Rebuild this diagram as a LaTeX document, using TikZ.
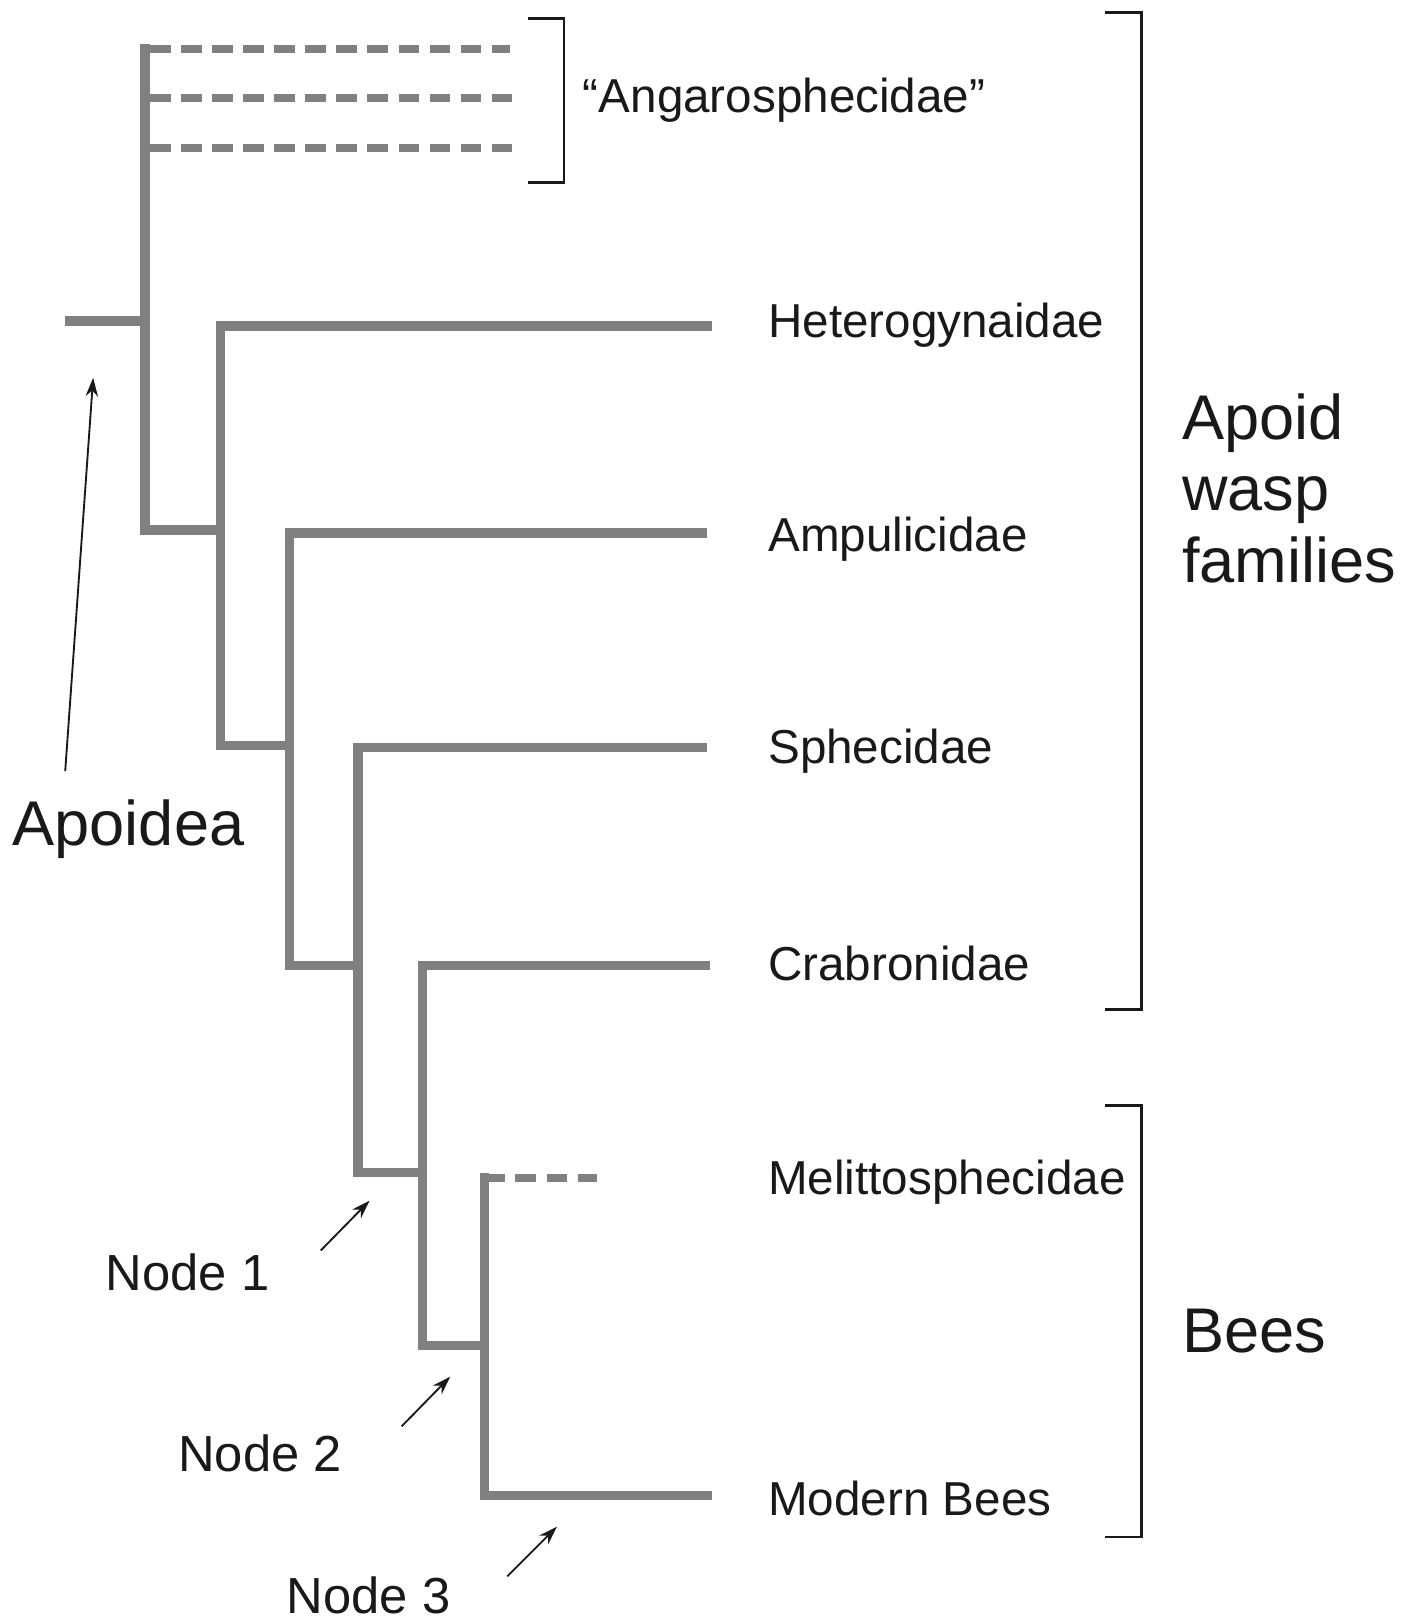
\documentclass[tikz,border=0pt]{standalone}
\usepackage{fontspec}
\setmainfont{Liberation Sans}
\usetikzlibrary{arrows.meta}
\definecolor{treegray}{RGB}{128,128,128}
\definecolor{inkblack}{RGB}{25,25,25}
\begin{document}
\begin{tikzpicture}[x=1pt,y=-1pt,
  branch/.style={draw=treegray, line width=9pt, line cap=rect, line join=miter},
  fossil/.style={draw=treegray, line width=8pt, dash pattern=on 20pt off 10pt},
  groupbracket/.style={draw=inkblack, line width=2.6pt, line join=miter},
  pointer/.style={draw=inkblack, line width=1.8pt, -{Stealth[length=18pt,width=12pt]}},
  taxon/.style={anchor=base west, inner sep=0pt, text=inkblack, font=\fontsize{46}{55}\selectfont},
  biglabel/.style={anchor=base west, inner sep=0pt, text=inkblack, font=\fontsize{61}{70}\selectfont, align=left},
  nodelabel/.style={anchor=base west, inner sep=0pt, text=inkblack, font=\fontsize{49}{58}\selectfont}]
\useasboundingbox (0,0) rectangle (1354,1568);

% internal nodes
\coordinate (root) at (67,310);
\coordinate (a) at (140,310);
\coordinate (atop) at (140,47);
\coordinate (abot) at (140,512);
\coordinate (b) at (213,512);
\coordinate (btop) at (213,315);
\coordinate (bbot) at (213,720);
\coordinate (c) at (280,720);
\coordinate (ctop) at (280,515);
\coordinate (cbot) at (280,933);
\coordinate (d) at (346,933);
\coordinate (dtop) at (346,722);
\coordinate (dbot) at (346,1133);
\coordinate (e) at (408,1133);
\coordinate (etop) at (408,933);
\coordinate (ebot) at (408,1300);
\coordinate (f) at (468,1300);
\coordinate (ftop) at (468,1138);
\coordinate (fbot) at (468,1445);

% tips
\coordinate (tHet) at (683,315);
\coordinate (tAmp) at (679,515);
\coordinate (tSph) at (679,722);
\coordinate (tCra) at (681,933);
\coordinate (tMel) at (577,1138);
\coordinate (tMod) at (683,1445);
\coordinate (g1a) at (145,47);  \coordinate (g1b) at (493,47);
\coordinate (g2a) at (145,95);  \coordinate (g2b) at (497,95);
\coordinate (g3a) at (145,143); \coordinate (g3b) at (500,143);

% tree
\draw[branch] (root) -- (a);
\draw[branch] (atop) -- (abot) -- (b);
\draw[branch] (tHet) -- (btop) -- (bbot) -- (c);
\draw[branch] (tAmp) -- (ctop) -- (cbot) -- (d);
\draw[branch] (tSph) -- (dtop) -- (dbot) -- (e);
\draw[branch] (tCra) -- (etop) -- (ebot) -- (f);
\draw[branch] (ftop) -- (fbot) -- (tMod);
\draw[fossil] (ftop) -- (tMel);
\draw[fossil] (g1a) -- (g1b);
\draw[fossil] (g2a) -- (g2b);
\draw[fossil] (g3a) -- (g3b);

% labels
\node[taxon] (angaro) at (563,109) {“Angarosphecidae”};
\node[taxon] (het) at (742,326) {Heterogynaidae};
\node[taxon] (amp) at (742,533) {Ampulicidae};
\node[taxon] (sph) at (742,738) {Sphecidae};
\node[taxon] (cra) at (742,947) {Crabronidae};
\node[taxon] (mel) at (742,1154) {Melittosphecidae};
\node[taxon] (mod) at (742,1464) {Modern Bees};

\node[biglabel] (apoid) at (1142,425) {Apoid};
\node[biglabel] (wasp) at (1142,493) {wasp};
\node[biglabel] (fam) at (1142,563) {families};
\node[biglabel] (bees) at (1142,1307) {Bees};
\node[biglabel] (apoidea) at (12,817) {Apoidea};

\node[nodelabel] (n1) at (102,1247) {Node 1};
\node[nodelabel] (n2) at (172,1422) {Node 2};
\node[nodelabel] (n3) at (277,1559) {Node 3};

% brackets
\draw[groupbracket] (510,18) -- (545,18) -- (545,176) -- (510,176);
\draw[groupbracket] (1068,12) -- (1103,12) -- (1103,975) -- (1068,975);
\draw[groupbracket] (1068,1068) -- (1103,1068) -- (1103,1485) -- (1068,1485);

% pointers
\coordinate (p0s) at (63,745);   \coordinate (p0e) at (90,365);
\coordinate (p1s) at (310,1208); \coordinate (p1e) at (357,1160);
\coordinate (p2s) at (388,1378); \coordinate (p2e) at (435,1330);
\coordinate (p3s) at (490,1523); \coordinate (p3e) at (538,1475);
\draw[pointer] (p0s) -- (p0e);
\draw[pointer] (p1s) -- (p1e);
\draw[pointer] (p2s) -- (p2e);
\draw[pointer] (p3s) -- (p3e);
\end{tikzpicture}
\end{document}
